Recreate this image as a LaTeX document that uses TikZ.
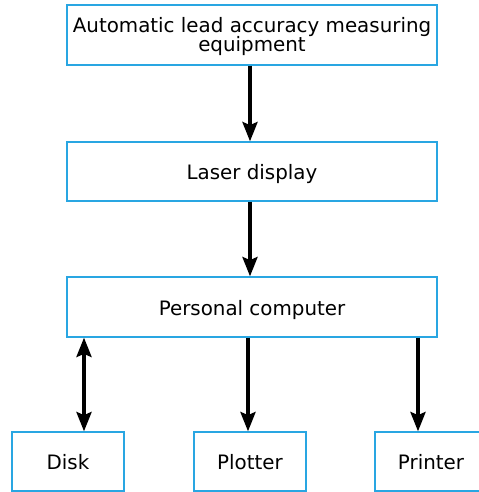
\documentclass[tikz,border=0pt]{standalone}
\usepackage{fontspec}
\setmainfont{DejaVu Sans}
\usetikzlibrary{arrows.meta,positioning,calc}
\definecolor{boxblue}{RGB}{41,166,226}

\begin{document}
\begin{tikzpicture}[
    x=0.02cm, y=-0.02cm,
    box/.style={rectangle, draw=boxblue, line width=0.8pt, minimum width=7.4cm, minimum height=1.2cm, align=center, font=\fontsize{11.3}{11.3}\selectfont, inner sep=0pt},
    onebox/.style={box, text height=9.6pt, text depth=0pt},
    outbox/.style={onebox, minimum width=2.24cm, minimum height=1.18cm},
    arrow/.style={-{Stealth[length=11pt, width=8.6pt, inset=1.8pt]}, line width=1.9pt},
    dblarrow/.style={arrow, {Stealth[length=11pt, width=8.6pt, inset=1.8pt]}-{Stealth[length=11pt, width=8.6pt, inset=1.8pt]}}
]
\useasboundingbox (0,0) rectangle (478,492);

% Main column
\node[box] (alme) at (252, 35) {\raisebox{-1.6pt}[\height][\depth]{\begin{tabular}{@{}c@{}}Automatic lead accuracy measuring\\[-1.2pt]equipment\end{tabular}}};
\node[onebox, minimum height=1.18cm] (laser) at (252, 171.5) {Laser display};
\node[onebox] (pc) at (252, 307) {Personal computer};

% Output devices
\node[outbox] (disk) at (68, 461.5) {Disk};
\node[outbox] (plotter) at (250, 461.5) {Plotter};
\node[outbox] (printer) at (431, 461.5) {Printer};

% Arrows
\draw[arrow] ([xshift=-0.04cm]alme.south) -- ([xshift=-0.04cm]laser.north);
\draw[arrow] ([xshift=-0.04cm]laser.south) -- ([xshift=-0.04cm]pc.north);

\coordinate (dtop) at ($(disk.north)+(16,0)$);
\coordinate (ptop) at ($(plotter.north)+(-2,0)$);
\coordinate (rtop) at ($(printer.north)+(-13,0)$);
\draw[dblarrow] (dtop |- pc.south) -- (dtop);
\draw[arrow] (ptop |- pc.south) -- (ptop);
\draw[arrow] (rtop |- pc.south) -- (rtop);

\end{tikzpicture}
\end{document}
